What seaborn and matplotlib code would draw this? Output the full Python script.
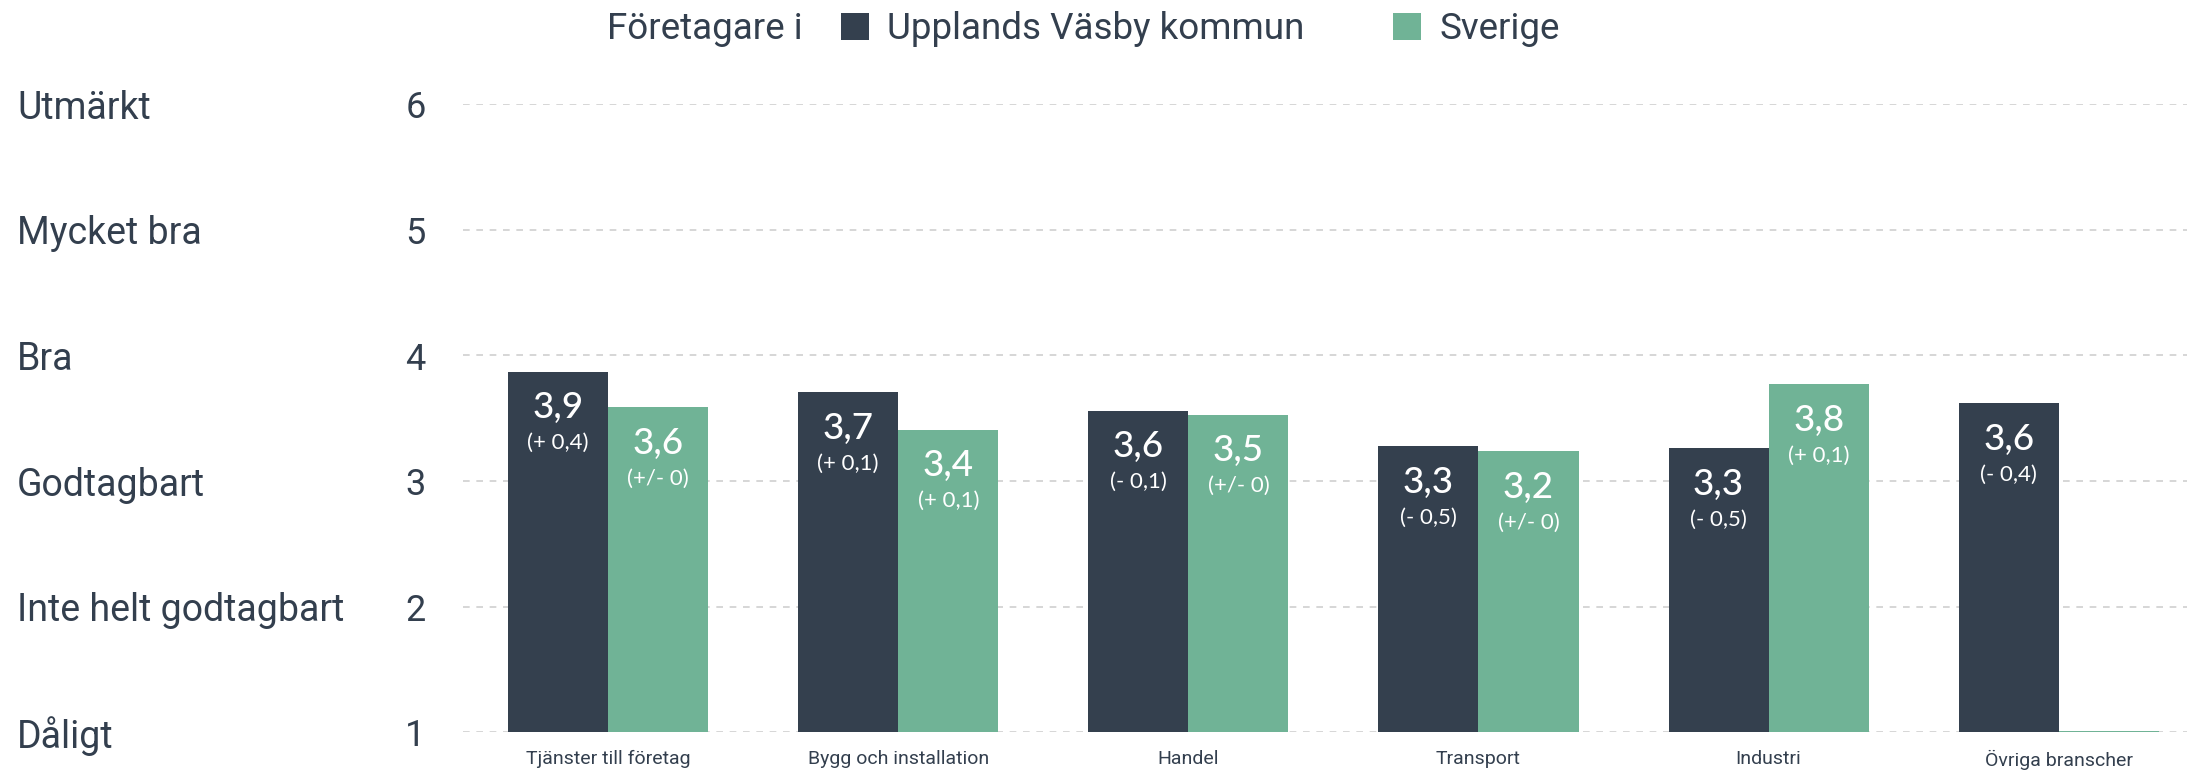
import matplotlib
matplotlib.use("Agg")
import matplotlib.pyplot as plt
import matplotlib.transforms as mtransforms
import seaborn as sns
import pandas as pd

# Data
branscher = ["Tjänster till företag", "Bygg och installation", "Handel",
             "Transport", "Industri", "Övriga branscher"]
vasby = [3.87, 3.71, 3.56, 3.28, 3.26, 3.62]
sverige = [3.59, 3.41, 3.53, 3.24, 3.77, 1.01]
vasby_diff = ["(+ 0,4)", "(+ 0,1)", "(- 0,1)", "(- 0,5)", "(- 0,5)", "(- 0,4)"]
sverige_diff = ["(+/- 0)", "(+ 0,1)", "(+/- 0)", "(+/- 0)", "(+ 0,1)", ""]
serier = ["Upplands Väsby kommun", "Sverige"]
betyg = ["Dåligt", "Inte helt godtagbart", "Godtagbart", "Bra", "Mycket bra", "Utmärkt"]
betyg_varden = [1, 2, 3, 4, 5, 6]

DARK = "#34404e"
GREEN = "#70b396"
TEXT = "#333f4e"
ROBOTO = ["Roboto", "DejaVu Sans"]

df = pd.DataFrame({
    "bransch": branscher * 2,
    "serie": [serier[0]] * len(branscher) + [serier[1]] * len(branscher),
    "varde": vasby + sverige,
})

sns.set_theme(style="white")
plt.rcParams["font.family"] = ["Lato", "DejaVu Sans"]

fig = plt.figure(figsize=(21.87, 7.70), dpi=100)
ax = fig.add_axes([463 / 2187, 37.7 / 770, 1 - 463 / 2187, 628 / 770])

sns.barplot(data=df, x="bransch", y="varde", hue="serie", order=branscher,
            hue_order=serier, palette=[DARK, GREEN], width=0.69,
            saturation=1, linewidth=0, ax=ax)

ax.set_ylim(1, 6)
ax.set_xlim(-0.5, 5.442)
ax.set_yticks(betyg_varden)
ax.set_yticklabels([str(v) for v in betyg_varden])
for lbl in ax.get_yticklabels():
    lbl.set_fontfamily(ROBOTO)
    lbl.set_fontsize(26)
    lbl.set_color(TEXT)
ax.tick_params(axis="y", length=0, pad=27)
ax.tick_params(axis="x", length=0, pad=13)
for lbl in ax.get_xticklabels():
    lbl.set_fontfamily(ROBOTO)
    lbl.set_fontsize(14)
    lbl.set_color(TEXT)
ax.set_xlabel("")
ax.set_ylabel("")
for s in ax.spines.values():
    s.set_visible(False)
ax.set_axisbelow(True)
ax.grid(axis="y", color="#cfcfcf", linestyle=(0, (4, 4)), linewidth=1.2)
ax.grid(axis="x", visible=False)

# rating names on the far left
trans = mtransforms.blended_transform_factory(fig.transFigure, ax.transData)
trans = trans + mtransforms.ScaledTranslation(0, -0.04, fig.dpi_scale_trans)
for v, name in zip(betyg_varden, betyg):
    ax.text(17 / 2187, v, name, transform=trans, ha="left", va="center",
            fontsize=27, color=TEXT, family=ROBOTO, clip_on=False)

# value labels inside bars
for cont, vals, diffs in zip(ax.containers, [vasby, sverige], [vasby_diff, sverige_diff]):
    for bar, v, d in zip(cont, vals, diffs):
        if not d:
            continue
        cx = bar.get_x() + bar.get_width() / 2
        ax.annotate(f"{v:.1f}".replace(".", ","), (cx, v), xytext=(0, -26),
                    textcoords="offset points", ha="center", va="center",
                    fontsize=26.5, color="white", fontweight="medium")
        ax.annotate(d, (cx, v), xytext=(0, -51.5), textcoords="offset points",
                    ha="center", va="center", fontsize=16, color="white")

# legend on top
handles, labels = ax.get_legend_handles_labels()
ax.get_legend().remove()
fig.text(607 / 2187, 1 - 29 / 770, "Företagare i", ha="left", va="center",
         fontsize=26.5, color=TEXT, family=ROBOTO)
fig.legend(handles, labels, loc="center left", bbox_to_anchor=(841 / 2187, 1 - 29 / 770),
           ncol=2, frameon=False, borderpad=0, borderaxespad=0, handlelength=0.76,
           handleheight=0.76, handletextpad=0.5, columnspacing=2.4,
           prop={"family": ROBOTO, "size": 26.5}, labelcolor=TEXT)

fig.savefig("out.png", dpi=100)
